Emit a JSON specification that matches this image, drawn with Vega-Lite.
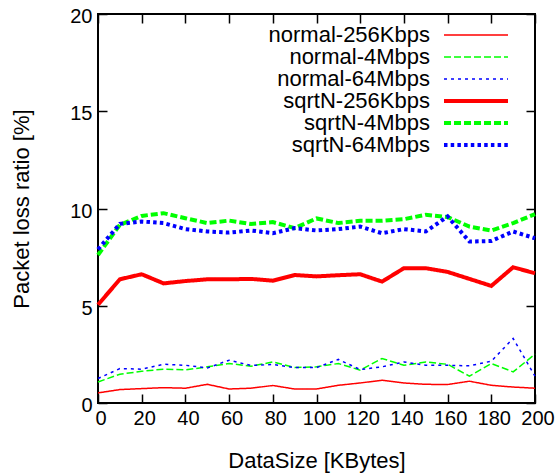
{
  "$schema": "https://vega.github.io/schema/vega-lite/v6.json",
  "width": 437,
  "height": 389,
  "autosize": {"type": "none"},
  "padding": {"left": 98, "top": 14, "right": 23, "bottom": 73},
  "background": "white",
  "config": {
    "font": "Liberation Sans",
    "view": {"stroke": "black", "strokeWidth": 2},
    "axis": {
      "domain": false, "grid": false, "tickColor": "black", "tickSize": -9, "tickWidth": 1.5,
      "labelFont": "Liberation Sans", "labelFontSize": 20, "labelColor": "black",
      "titleFont": "Liberation Sans", "titleFontSize": 22, "titleFontWeight": "normal", "titleColor": "black",
      "labelFlush": false, "labelOverlap": false
    },
    "legend": {
      "orient": "none", "legendX": 367, "legendY": 10, "padding": 0,
      "symbolType": "M-4,0H4", "symbolSize": 256, "labelAlign": "right", "labelOffset": -57,
      "labelFont": "Liberation Sans", "labelFontSize": 22, "labelColor": "black", "labelLimit": 400,
      "rowPadding": 0, "labelBaseline": "middle"
    }
  },
  "data": {"values": [
    {"size":0,"loss":0.52,"series":"normal-256Kbps"},{"size":10,"loss":0.69,"series":"normal-256Kbps"},{"size":20,"loss":0.74,"series":"normal-256Kbps"},{"size":30,"loss":0.79,"series":"normal-256Kbps"},{"size":40,"loss":0.76,"series":"normal-256Kbps"},{"size":50,"loss":0.96,"series":"normal-256Kbps"},{"size":60,"loss":0.72,"series":"normal-256Kbps"},{"size":70,"loss":0.76,"series":"normal-256Kbps"},{"size":80,"loss":0.9,"series":"normal-256Kbps"},{"size":90,"loss":0.72,"series":"normal-256Kbps"},{"size":100,"loss":0.72,"series":"normal-256Kbps"},{"size":110,"loss":0.91,"series":"normal-256Kbps"},{"size":120,"loss":1.03,"series":"normal-256Kbps"},{"size":130,"loss":1.17,"series":"normal-256Kbps"},{"size":140,"loss":1.03,"series":"normal-256Kbps"},{"size":150,"loss":0.96,"series":"normal-256Kbps"},{"size":160,"loss":0.95,"series":"normal-256Kbps"},{"size":170,"loss":1.12,"series":"normal-256Kbps"},{"size":180,"loss":0.91,"series":"normal-256Kbps"},{"size":190,"loss":0.82,"series":"normal-256Kbps"},{"size":200,"loss":0.76,"series":"normal-256Kbps"},
    {"size":0,"loss":1.08,"series":"normal-4Mbps"},{"size":10,"loss":1.48,"series":"normal-4Mbps"},{"size":20,"loss":1.63,"series":"normal-4Mbps"},{"size":30,"loss":1.74,"series":"normal-4Mbps"},{"size":40,"loss":1.7,"series":"normal-4Mbps"},{"size":50,"loss":1.86,"series":"normal-4Mbps"},{"size":60,"loss":2.03,"series":"normal-4Mbps"},{"size":70,"loss":1.89,"series":"normal-4Mbps"},{"size":80,"loss":2.11,"series":"normal-4Mbps"},{"size":90,"loss":1.82,"series":"normal-4Mbps"},{"size":100,"loss":1.86,"series":"normal-4Mbps"},{"size":110,"loss":2.03,"series":"normal-4Mbps"},{"size":120,"loss":1.69,"series":"normal-4Mbps"},{"size":130,"loss":2.29,"series":"normal-4Mbps"},{"size":140,"loss":1.94,"series":"normal-4Mbps"},{"size":150,"loss":2.11,"series":"normal-4Mbps"},{"size":160,"loss":1.99,"series":"normal-4Mbps"},{"size":170,"loss":1.38,"series":"normal-4Mbps"},{"size":180,"loss":2.03,"series":"normal-4Mbps"},{"size":190,"loss":1.6,"series":"normal-4Mbps"},{"size":200,"loss":2.51,"series":"normal-4Mbps"},
    {"size":0,"loss":1.26,"series":"normal-64Mbps"},{"size":10,"loss":1.77,"series":"normal-64Mbps"},{"size":20,"loss":1.74,"series":"normal-64Mbps"},{"size":30,"loss":1.99,"series":"normal-64Mbps"},{"size":40,"loss":1.94,"series":"normal-64Mbps"},{"size":50,"loss":1.8,"series":"normal-64Mbps"},{"size":60,"loss":2.2,"series":"normal-64Mbps"},{"size":70,"loss":1.93,"series":"normal-64Mbps"},{"size":80,"loss":1.98,"series":"normal-64Mbps"},{"size":90,"loss":1.82,"series":"normal-64Mbps"},{"size":100,"loss":1.82,"series":"normal-64Mbps"},{"size":110,"loss":2.24,"series":"normal-64Mbps"},{"size":120,"loss":1.72,"series":"normal-64Mbps"},{"size":130,"loss":1.86,"series":"normal-64Mbps"},{"size":140,"loss":2.11,"series":"normal-64Mbps"},{"size":150,"loss":1.94,"series":"normal-64Mbps"},{"size":160,"loss":1.94,"series":"normal-64Mbps"},{"size":170,"loss":1.91,"series":"normal-64Mbps"},{"size":180,"loss":2.15,"series":"normal-64Mbps"},{"size":190,"loss":3.32,"series":"normal-64Mbps"},{"size":200,"loss":1.38,"series":"normal-64Mbps"},
    {"size":0,"loss":5.05,"series":"sqrtN-256Kbps"},{"size":10,"loss":6.36,"series":"sqrtN-256Kbps"},{"size":20,"loss":6.62,"series":"sqrtN-256Kbps"},{"size":30,"loss":6.15,"series":"sqrtN-256Kbps"},{"size":40,"loss":6.27,"series":"sqrtN-256Kbps"},{"size":50,"loss":6.36,"series":"sqrtN-256Kbps"},{"size":60,"loss":6.36,"series":"sqrtN-256Kbps"},{"size":70,"loss":6.38,"series":"sqrtN-256Kbps"},{"size":80,"loss":6.29,"series":"sqrtN-256Kbps"},{"size":90,"loss":6.58,"series":"sqrtN-256Kbps"},{"size":100,"loss":6.51,"series":"sqrtN-256Kbps"},{"size":110,"loss":6.57,"series":"sqrtN-256Kbps"},{"size":120,"loss":6.62,"series":"sqrtN-256Kbps"},{"size":130,"loss":6.24,"series":"sqrtN-256Kbps"},{"size":140,"loss":6.93,"series":"sqrtN-256Kbps"},{"size":150,"loss":6.93,"series":"sqrtN-256Kbps"},{"size":160,"loss":6.74,"series":"sqrtN-256Kbps"},{"size":170,"loss":6.38,"series":"sqrtN-256Kbps"},{"size":180,"loss":6.02,"series":"sqrtN-256Kbps"},{"size":190,"loss":6.98,"series":"sqrtN-256Kbps"},{"size":200,"loss":6.67,"series":"sqrtN-256Kbps"},
    {"size":0,"loss":7.61,"series":"sqrtN-4Mbps"},{"size":10,"loss":9.16,"series":"sqrtN-4Mbps"},{"size":20,"loss":9.62,"series":"sqrtN-4Mbps"},{"size":30,"loss":9.76,"series":"sqrtN-4Mbps"},{"size":40,"loss":9.5,"series":"sqrtN-4Mbps"},{"size":50,"loss":9.25,"series":"sqrtN-4Mbps"},{"size":60,"loss":9.38,"series":"sqrtN-4Mbps"},{"size":70,"loss":9.2,"series":"sqrtN-4Mbps"},{"size":80,"loss":9.3,"series":"sqrtN-4Mbps"},{"size":90,"loss":8.99,"series":"sqrtN-4Mbps"},{"size":100,"loss":9.49,"series":"sqrtN-4Mbps"},{"size":110,"loss":9.25,"series":"sqrtN-4Mbps"},{"size":120,"loss":9.37,"series":"sqrtN-4Mbps"},{"size":130,"loss":9.37,"series":"sqrtN-4Mbps"},{"size":140,"loss":9.45,"series":"sqrtN-4Mbps"},{"size":150,"loss":9.68,"series":"sqrtN-4Mbps"},{"size":160,"loss":9.56,"series":"sqrtN-4Mbps"},{"size":170,"loss":9.07,"series":"sqrtN-4Mbps"},{"size":180,"loss":8.87,"series":"sqrtN-4Mbps"},{"size":190,"loss":9.25,"series":"sqrtN-4Mbps"},{"size":200,"loss":9.71,"series":"sqrtN-4Mbps"},
    {"size":0,"loss":7.9,"series":"sqrtN-64Mbps"},{"size":10,"loss":9.21,"series":"sqrtN-64Mbps"},{"size":20,"loss":9.33,"series":"sqrtN-64Mbps"},{"size":30,"loss":9.25,"series":"sqrtN-64Mbps"},{"size":40,"loss":8.94,"series":"sqrtN-64Mbps"},{"size":50,"loss":8.82,"series":"sqrtN-64Mbps"},{"size":60,"loss":8.76,"series":"sqrtN-64Mbps"},{"size":70,"loss":8.87,"series":"sqrtN-64Mbps"},{"size":80,"loss":8.73,"series":"sqrtN-64Mbps"},{"size":90,"loss":8.99,"series":"sqrtN-64Mbps"},{"size":100,"loss":8.87,"series":"sqrtN-64Mbps"},{"size":110,"loss":8.94,"series":"sqrtN-64Mbps"},{"size":120,"loss":9.07,"series":"sqrtN-64Mbps"},{"size":130,"loss":8.73,"series":"sqrtN-64Mbps"},{"size":140,"loss":8.94,"series":"sqrtN-64Mbps"},{"size":150,"loss":8.82,"series":"sqrtN-64Mbps"},{"size":160,"loss":9.59,"series":"sqrtN-64Mbps"},{"size":170,"loss":8.3,"series":"sqrtN-64Mbps"},{"size":180,"loss":8.33,"series":"sqrtN-64Mbps"},{"size":190,"loss":8.82,"series":"sqrtN-64Mbps"},{"size":200,"loss":8.47,"series":"sqrtN-64Mbps"}
  ]},
  "layer": [
    {
      "mark": {"type": "line", "strokeCap": "butt", "strokeJoin": "miter"},
      "encoding": {
        "x": {"field": "size", "type": "quantitative", "scale": {"domain": [0, 200], "nice": false},
              "axis": {"orient": "bottom", "values": [0,20,40,60,80,100,120,140,160,180,200], "labelPadding": 14, "labelOffset": 2.5,
                       "title": "DataSize [KBytes]", "titleY": 57, "titleBaseline": "middle"}},
        "y": {"field": "loss", "type": "quantitative", "scale": {"domain": [0, 20], "nice": false},
              "axis": {"orient": "left", "values": [0,5,10,15,20], "labelPadding": 15, "labelOffset": 2.5,
                       "title": "Packet loss ratio [%]", "titleX": -77, "titleY": 194.5, "titleAngle": -90, "titleBaseline": "middle", "titleAlign": "center"}},
        "color": {"field": "series", "type": "nominal", "legend": {"title": null},
                  "scale": {"domain": ["normal-256Kbps","normal-4Mbps","normal-64Mbps","sqrtN-256Kbps","sqrtN-4Mbps","sqrtN-64Mbps"],
                            "range": ["#ff0000","#00ff00","#0000ff","#ff0000","#00ff00","#0000ff"]}},
        "strokeDash": {"field": "series", "type": "nominal", "legend": {"title": null},
                  "scale": {"domain": ["normal-256Kbps","normal-4Mbps","normal-64Mbps","sqrtN-256Kbps","sqrtN-4Mbps","sqrtN-64Mbps"],
                            "range": [[1,0],[7,3],[3,4],[1,0],[7,3],[3.5,3.2]]}},
        "strokeWidth": {"field": "series", "type": "ordinal", "legend": {"title": null},
                  "scale": {"type": "ordinal", "domain": ["normal-256Kbps","normal-4Mbps","normal-64Mbps","sqrtN-256Kbps","sqrtN-4Mbps","sqrtN-64Mbps"],
                            "range": [1.5,1.5,1.5,4,4,4]}}
      }
    },
    {
      "mark": {"type": "point", "opacity": 0},
      "encoding": {
        "x": {"field": "size", "type": "quantitative", "axis": {"orient": "top", "values": [0,20,40,60,80,100,120,140,160,180,200], "labels": false, "title": null}},
        "y": {"field": "loss", "type": "quantitative", "axis": {"orient": "right", "values": [0,5,10,15,20], "labels": false, "title": null}}
      }
    }
  ],
  "resolve": {"axis": {"x": "independent", "y": "independent"}}
}
